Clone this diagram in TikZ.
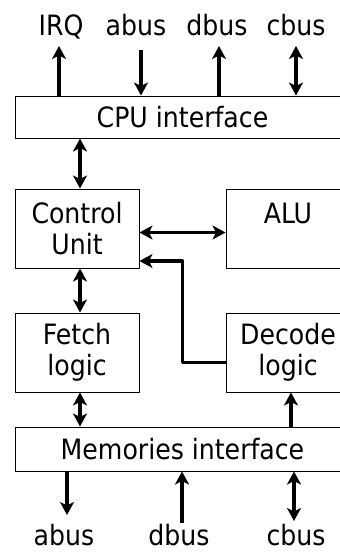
\documentclass[tikz,border=0pt]{standalone}
\usepackage{fontspec}
\setmainfont{DejaVu Sans Condensed}
\usetikzlibrary{arrows.meta}
\begin{document}
\begin{tikzpicture}[x=1pt,y=-1pt,>={Stealth[length=13pt,width=14pt,inset=3.5pt]},line join=round,font=\fontsize{28}{31}\selectfont,
	blk/.style={draw,line width=1pt,inner sep=0pt,align=center,minimum width=124pt,minimum height=79pt},
	bus/.style={line width=3.4pt}]
	\clip (0,0) rectangle (340,552);
	\node[blk,minimum width=335pt,minimum height=42pt] (cpu) at (182.5,117) {CPU interface};
	\node[blk] (ctrl) at (77,228.5) {Control\\Unit};
	\node[blk] (alu) at (288,228.5) {ALU\\~};
	\node[blk] (fetch) at (77,352.5) {Fetch\\logic};
	\node[blk] (dec) at (288,352.5) {Decode\\logic};
	\node[blk,minimum width=335pt,minimum height=44pt] (mem) at (182.5,449) {Memories interface};
	
	\foreach \n/\t/\x/\ax/\yy/\a in {irq/IRQ/61/59/46/->,ab/abus/136/141/50/<-,db/dbus/217/219/46/->,cb/cbus/296/296/46/<->}{
		\node[anchor=base] (t\n) at (\x,35) {\t};
		\coordinate (e\n) at (\ax,\yy);
		\draw[bus,\a] (e\n |- cpu.north) -- (e\n);
	}
	\foreach \n/\t/\x/\ax/\yy/\a in {mab/abus/64/67/515/->,mdb/dbus/179/182/523/<-,mcb/cbus/296/294/521/<->}{
		\node[anchor=base] (t\n) at (\x,545) {\t};
		\coordinate (e\n) at (\ax,\yy);
		\draw[bus,\a] (e\n |- mem.south) -- (e\n);
	}
	
	\draw[bus,<->] ([xshift=3pt]ctrl.north) -- ([xshift=3pt]ctrl.north |- cpu.south);
	\draw[bus,<->] ([xshift=3pt]ctrl.south) -- ([xshift=3pt]fetch.north);
	\draw[bus,<->] ([xshift=3pt]fetch.south) -- ([xshift=3pt]fetch.south |- mem.north);
	\draw[bus,<->] ([yshift=-4pt]ctrl.east) -- ([yshift=-4pt]ctrl.east -| alu.west);
	\draw[bus,->] ([yshift=-10pt]dec.west) -| ([xshift=43pt,yshift=-32.5pt]ctrl.east) -- ([yshift=-32.5pt]ctrl.east);
	\draw[bus,->] ([xshift=3pt]dec.south |- mem.north) -- ([xshift=3pt]dec.south);
\end{tikzpicture}
\end{document}
